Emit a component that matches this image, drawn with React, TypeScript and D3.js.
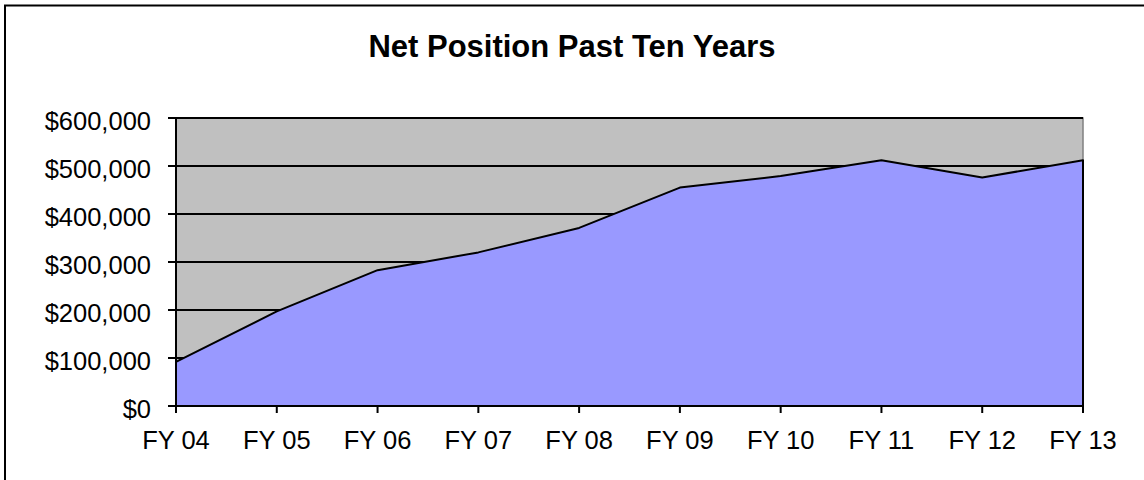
import React from "react";
import * as d3 from "d3";

const years = ["FY 04", "FY 05", "FY 06", "FY 07", "FY 08", "FY 09", "FY 10", "FY 11", "FY 12", "FY 13"];
const netPosition = [92000, 197000, 283000, 320000, 371000, 455000, 479000, 512000, 476000, 512000];
const yTicks = [0, 100000, 200000, 300000, 400000, 500000, 600000];

const W = 1144;
const H = 480;
const left = 176;
const right = 1083;
const top = 118;
const bottom = 406;
const font = "'Liberation Sans', Arial, sans-serif";

const App = () => {
  const x = d3.scalePoint().domain(years).range([left, right]);
  const y = d3.scaleLinear().domain([0, 600000]).range([bottom, top]);
  const fmt = d3.format("$,");

  const area = d3
    .area<number>()
    .x((d, i) => x(years[i]) as number)
    .y0(y(0))
    .y1((d) => y(d));

  return (
    <svg width={W} height={H} style={{ position: "absolute", left: 0, top: 0, background: "#fff" }}>
      {/* outer chart border, runs off right and bottom */}
      <rect x={5} y={5.5} width={W + 20} height={H + 20} fill="#fff" stroke="#000" strokeWidth={2} />

      <text x={572} y={57} textAnchor="middle" fontFamily={font} fontWeight="bold" fontSize={31} fill="#000">
        Net Position Past Ten Years
      </text>

      {/* plot area */}
      <rect x={left} y={top} width={right - left} height={bottom - top} fill="#C0C0C0" stroke="#808080" strokeWidth={1.5} />

      {yTicks.slice(1).map((t) => (
        <line key={t} x1={left} x2={right} y1={y(t)} y2={y(t)} stroke="#000" strokeWidth={2} />
      ))}

      <path d={area(netPosition) || ""} fill="#9999FF" stroke="#000" strokeWidth={2} strokeLinejoin="round" />

      {/* y axis */}
      <line x1={left} x2={left} y1={top} y2={bottom} stroke="#000" strokeWidth={2} />
      {yTicks.map((t) => (
        <g key={t}>
          <line x1={left - 8} x2={left} y1={y(t)} y2={y(t)} stroke="#000" strokeWidth={2} />
          <text x={151} y={y(t) + 11.5} textAnchor="end" fontFamily={font} fontSize={25.5} fill="#000">
            {fmt(t)}
          </text>
        </g>
      ))}

      {/* x axis */}
      <line x1={left} x2={right} y1={bottom} y2={bottom} stroke="#000" strokeWidth={2} />
      {years.map((c) => (
        <g key={c}>
          <line x1={x(c)} x2={x(c)} y1={bottom} y2={bottom + 7} stroke="#000" strokeWidth={2} />
          <text x={x(c)} y={449} textAnchor="middle" fontFamily={font} fontSize={25.5} fill="#000">
            {c}
          </text>
        </g>
      ))}
    </svg>
  );
};

export default App;
